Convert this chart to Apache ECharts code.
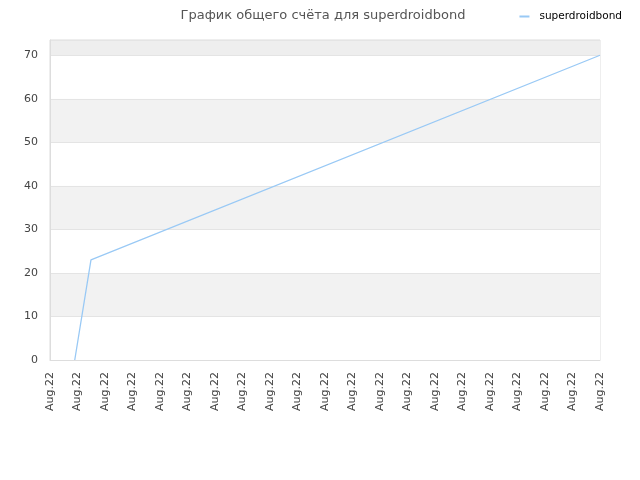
<!DOCTYPE html>
<html><head><meta charset="utf-8">
<script src="https://cdn.jsdelivr.net/npm/echarts@6/dist/echarts.min.js"></script>
<style>html,body{margin:0;padding:0;background:#fff}#c{width:640px;height:480px}</style>
</head><body><div id="c"></div>
<script>
var titleText = 'График общего счёта для superdroidbond';
var seriesName = 'superdroidbond';
var xTickLabel = 'Aug.22';
var xPositions = [0.9, 1.49, 20];
var scores = [0, 23, 70];

var chart = echarts.init(document.getElementById('c'));
chart.setOption({
  animation: false,
  backgroundColor: '#fff',
  title: {
    text: titleText, left: 318, top: 4, textAlign: 'center',
    textStyle: {fontFamily: 'DejaVu Sans', fontSize: 13, fontWeight: 'normal', color: '#555'}
  },
  legend: {
    right: 13, top: 6, itemWidth: 10, itemHeight: 2, itemGap: 6,
    icon: 'rect',
    textStyle: {fontFamily: 'DejaVu Sans', fontSize: 10.5, color: '#000', padding: [0, 0, 0, 5]},
    data: [seriesName]
  },
  grid: {left: 50, right: 40, top: 40, bottom: 120, show: true, borderColor: '#dddddd', borderWidth: 1, backgroundColor: 'transparent'},
  xAxis: {
    type: 'value', min: 0, max: 20, interval: 1,
    axisLine: {show: true, lineStyle: {color: '#dddddd'}},
    axisTick: {show: false},
    splitLine: {show: false},
    axisLabel: {rotate: 90, margin: 12, color: '#444', fontFamily: 'DejaVu Sans', fontSize: 11,
      formatter: function () { return xTickLabel; }}
  },
  yAxis: {
    type: 'value', min: 0, max: 73.5, interval: 10,
    axisLine: {show: true, lineStyle: {color: '#dddddd'}},
    axisTick: {show: false},
    axisLabel: {color: '#444', fontFamily: 'DejaVu Sans', fontSize: 11, margin: 12,
      showMaxLabel: false},
    splitLine: {show: true, lineStyle: {color: '#e4e4e4'}},
    splitArea: {show: true, areaStyle: {color: ['#ffffff', '#f2f2f2', '#ffffff', '#f2f2f2', '#ffffff', '#f2f2f2', '#ffffff', '#eeeeee']}}
  },
  series: [{
    name: seriesName, type: 'line', symbol: 'none',
    lineStyle: {color: '#99c9f5', width: 1.3},
    itemStyle: {color: '#99c9f5'},
    data: xPositions.map(function (x, i) { return [x, scores[i]]; })
  }]
});
</script></body></html>
